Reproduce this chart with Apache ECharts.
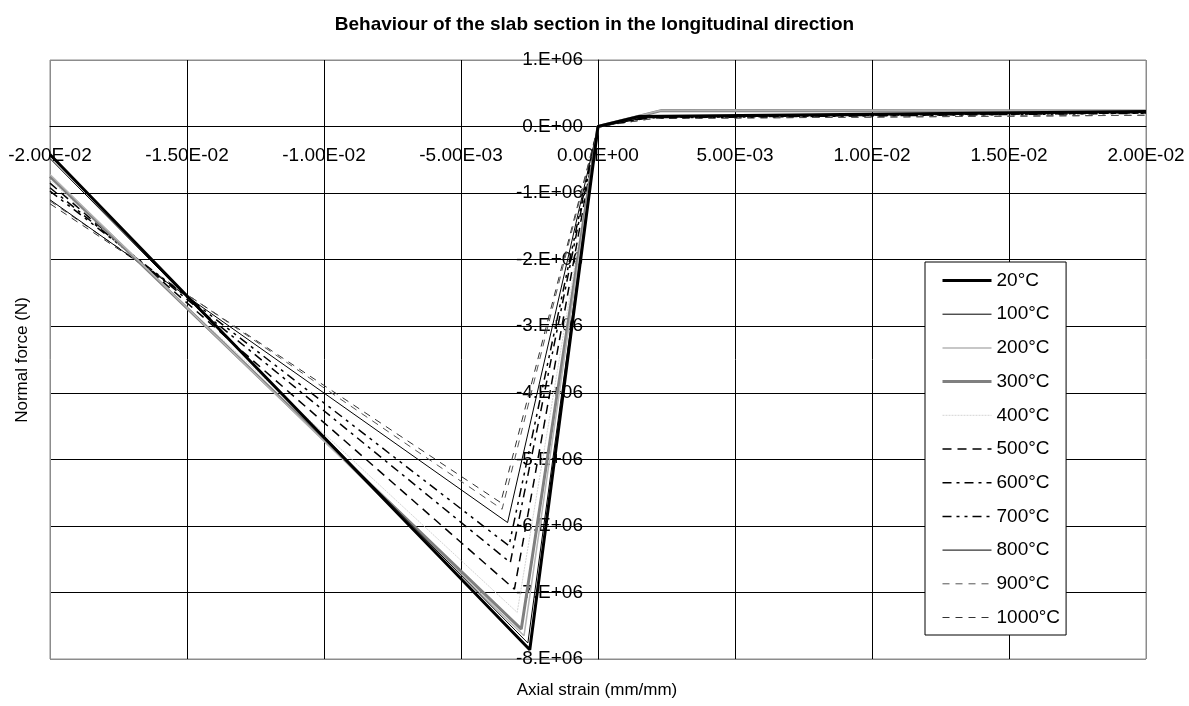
<!DOCTYPE html>
<html>
<head>
<meta charset="utf-8">
<script src="https://cdn.jsdelivr.net/npm/echarts@6/dist/echarts.min.js"></script>
<style>
  html, body { margin: 0; padding: 0; background: #fff; }
  #chart { width: 1189px; height: 706px; }
</style>
</head>
<body>
<div id="chart"></div>
<script>
// Section response curves (normal force vs. axial strain), one per temperature.
const temperatures = ['20°C', '100°C', '200°C', '300°C', '400°C', '500°C', '600°C', '700°C', '800°C', '900°C', '1000°C'];

// Compression branch: force at strain -0.02, peak point
const endStrain = -0.02;
const endForce = [-0.42e6, -0.48e6, -0.72e6, -0.75e6, -0.80e6, -0.85e6, -0.92e6, -0.97e6, -1.10e6, -1.12e6, -1.16e6];
const peakStrain = [-0.00249, -0.00256, -0.0027, -0.0028, -0.00295, -0.00305, -0.0032, -0.00325, -0.0033, -0.0035, -0.00355];
const peakForce = [-7.86e6, -7.76e6, -7.65e6, -7.55e6, -7.30e6, -6.95e6, -6.55e6, -6.30e6, -5.95e6, -5.75e6, -5.65e6];

// Tension branch: knee point and force at strain +0.02
const kneeStrain = [0.0015, 0.0015, 0.0023, 0.0023, 0.0023, 0.0018, 0.0018, 0.0018, 0.0018, 0.002, 0.002];
const kneeForce = [0.15e6, 0.15e6, 0.245e6, 0.24e6, 0.24e6, 0.14e6, 0.135e6, 0.13e6, 0.14e6, 0.12e6, 0.12e6];
const tensionStrain = 0.02;
const tensionForce = [0.225e6, 0.225e6, 0.235e6, 0.235e6, 0.235e6, 0.21e6, 0.205e6, 0.2e6, 0.22e6, 0.17e6, 0.17e6];

// Axis ranges
const xRange = [-0.02, 0.02, 0.005];
const yRange = [-8e6, 1e6, 1e6];

// Line appearance for each temperature
const lineStyles = [
  { color: '#000000', width: 3, type: 'solid' },
  { color: '#000000', width: 1, type: 'solid' },
  { color: '#b4b4b4', width: 1.5, type: 'solid' },
  { color: '#808080', width: 3, type: 'solid' },
  { color: '#d4d4d4', width: 1, type: [2, 1] },
  { color: '#000000', width: 1.5, type: [9, 6] },
  { color: '#000000', width: 1.5, type: [9, 5, 3, 5] },
  { color: '#000000', width: 1.5, type: [9, 5, 3, 5, 3, 5] },
  { color: '#000000', width: 1, type: 'solid' },
  { color: '#555555', width: 1, type: [7, 6] },
  { color: '#333333', width: 1, type: [7, 6] }
];

const FONT = '"Liberation Sans", Arial, sans-serif';
const GRID = { left: 50, right: 43, top: 60, bottom: 47 };
const W = 1189, H = 706;

function sci(v, digits) {
  const s = (Math.abs(v) < 1e-15 ? 0 : v).toExponential(digits);
  const parts = s.split('e');
  const n = parseInt(parts[1], 10);
  const mant = digits === 0 ? parts[0] + '.' : parts[0];
  return mant + 'E' + (n < 0 ? '-' : '+') + String(Math.abs(n)).padStart(2, '0');
}

function edgeColors(count) {
  const c = [];
  for (let i = 0; i < count; i++) c.push(i === 0 || i === count - 1 ? '#8c8c8c' : '#000000');
  return c;
}

const series = temperatures.map((name, i) => ({
  name: name,
  type: 'line',
  symbol: 'none',
  animation: false,
  z: 2 + (temperatures.length - i) * 0.01,
  lineStyle: lineStyles[i],
  itemStyle: { color: lineStyles[i].color },
  data: [
    [endStrain, endForce[i]],
    [peakStrain[i], peakForce[i]],
    [0, 0],
    [kneeStrain[i], kneeForce[i]],
    [tensionStrain, tensionForce[i]]
  ]
}));

const chart = echarts.init(document.getElementById('chart'), null, { renderer: 'canvas' });
chart.setOption({
  backgroundColor: '#ffffff',
  animation: false,
  title: {
    text: 'Behaviour of the slab section in the longitudinal direction',
    left: 'center',
    top: 10,
    textStyle: { fontSize: 19, fontWeight: 'bold', color: '#000', fontFamily: FONT }
  },
  grid: {
    left: GRID.left, right: GRID.right, top: GRID.top, bottom: GRID.bottom,
    outerBoundsMode: 'none',
    containLabel: false,
    show: true, borderColor: '#8c8c8c', borderWidth: 1, backgroundColor: '#fff'
  },
  legend: {
    orient: 'vertical',
    left: 925,
    top: 262,
    itemWidth: 49,
    itemHeight: 14,
    itemGap: 14.7,
    padding: [9, 6, 8, 16],
    borderColor: '#000',
    borderWidth: 1,
    backgroundColor: '#fff',
    itemStyle: { opacity: 0 },
    lineStyle: { width: 'inherit', opacity: 1 },
    textStyle: { fontSize: 19, color: '#000', fontFamily: FONT },
    data: temperatures
  },
  xAxis: {
    type: 'value',
    position: 'bottom',
    min: xRange[0], max: xRange[1], interval: xRange[2],
    axisLine: { onZero: false, lineStyle: { color: '#000', width: 1 } },
    axisTick: { show: false },
    axisLabel: {
      margin: 20, fontSize: 19, color: '#000', fontFamily: FONT,
      showMinLabel: true, showMaxLabel: true, hideOverlap: false,
      formatter: v => sci(v, 2)
    },
    splitLine: { show: true, lineStyle: { color: edgeColors(9), width: 1 } }
  },
  yAxis: {
    type: 'value',
    position: 'left',
    min: yRange[0], max: yRange[1], interval: yRange[2],
    axisLine: { onZero: false, lineStyle: { color: '#000', width: 1 } },
    axisTick: { show: false },
    axisLabel: {
      margin: 15, fontSize: 19, color: '#000', fontFamily: FONT,
      showMinLabel: true, showMaxLabel: true, hideOverlap: false,
      formatter: v => sci(v, 0)
    },
    splitLine: { show: true, lineStyle: { color: edgeColors(10), width: 1 } }
  },
  graphic: [
    {
      type: 'text', x: 597, y: 690,
      style: { text: 'Axial strain (mm/mm)', font: '17px ' + FONT, fill: '#000', align: 'center', verticalAlign: 'middle' }
    },
    {
      type: 'text', x: 22, y: 360, rotation: Math.PI / 2,
      style: { text: 'Normal force (N)', font: '17px ' + FONT, fill: '#000', align: 'center', verticalAlign: 'middle' }
    }
  ],
  series: series
});

// Move both axes so that they cross at the origin (0, 0).
const zeroX = chart.convertToPixel({ xAxisIndex: 0 }, 0);
const zeroY = chart.convertToPixel({ yAxisIndex: 0 }, 0);
chart.setOption({
  xAxis: { offset: zeroY - (H - GRID.bottom) },
  yAxis: { offset: GRID.left - zeroX }
});
</script>
</body>
</html>
